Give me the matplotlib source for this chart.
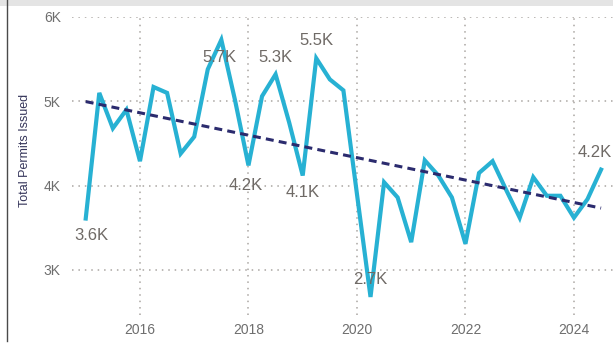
import numpy as np
import matplotlib
matplotlib.use("Agg")
import matplotlib.pyplot as plt
from matplotlib.lines import Line2D
from matplotlib.patches import Rectangle

# Quarterly building permits (thousands), 2015 Q1 - 2024 Q3
years = [2015, 2016, 2017, 2018, 2019, 2020, 2021, 2022, 2023, 2024]
quarter_values = [
    [3.61, 5.10, 4.68, 4.90],
    [4.29, 5.17, 5.10, 4.38],
    [4.58, 5.38, 5.73, 5.02],
    [4.24, 5.06, 5.32, 4.75],
    [4.12, 5.51, 5.26, 5.13],
    [3.90, 2.68, 4.04, 3.86],
    [3.33, 4.30, 4.12, 3.86],
    [3.31, 4.15, 4.29, 3.95],
    [3.62, 4.10, 3.88, 3.88],
    [3.62, 3.84, 4.19],
]
y_ticks = [3, 4, 5, 6]
y_tick_labels = ["3K", "4K", "5K", "6K"]
x_ticks = [2016, 2018, 2020, 2022, 2024]
x_tick_labels = ["2016", "2018", "2020", "2022", "2024"]
y_title = "Total Permits Issued"

# Points that carry a value label: (index, offset_x px, offset_y px)
labelled = [(0, 6, -17), (10, -2, -18), (12, -3, -20), (14, 0, 17),
            (16, 0, -17), (17, 0, 17.5), (21, 0, 17), (38, -6, 17)]

t = []
v = []
for yr, qs in zip(years, quarter_values):
    for q, val in enumerate(qs):
        t.append(yr + q * 0.25)
        v.append(val)
t = np.array(t)
v = np.array(v)

W, H = 613, 343
fig = plt.figure(figsize=(W / 100, H / 100), dpi=100)
plt.rcParams["font.family"] = ["Liberation Sans", "DejaVu Sans"]

ax = fig.add_axes([72 / W, 1 - 315 / H, (W - 72) / W, (315 - 17) / H])
ax.set_xlim(2014.747, 2024.72)
ax.set_ylim(2.466, 6.0)

grid_kw = dict(color="#aaa6a2", linestyle=(0, (1, 3.2)), linewidth=1.1, zorder=0)
for yt in y_ticks:
    ax.axhline(yt, **grid_kw)
for xt in x_ticks:
    ax.axvline(xt, **grid_kw)

line_color = "#27b1d3"
ax.plot(t, v, color=line_color, linewidth=3.0, solid_joinstyle="miter", zorder=3)

# Least-squares trend line
slope, intercept = np.polyfit(t, v, 1)
ax.plot([t[0], t[-1]], [intercept + slope * t[0], intercept + slope * t[-1]],
        color="#2b2b6e", linewidth=2.2, linestyle=(0, (2.6, 1.7)), zorder=4)

for idx, ox, oy in labelled:
    ax.annotate(f"{v[idx]:.1f}K", (t[idx], v[idx]),
                xytext=(ox * 0.72, oy * 0.72), textcoords="offset points",
                ha="center", va="center", fontsize=12, color="#6f6a66",
                zorder=5, annotation_clip=False)

ax.set_yticks(y_ticks)
ax.set_yticklabels(y_tick_labels)
ax.set_xticks(x_ticks)
ax.set_xticklabels(x_tick_labels)
ax.tick_params(axis="both", length=0, labelsize=10, labelcolor="#6e6e6e")
ax.tick_params(axis="y", pad=8)
ax.tick_params(axis="x", pad=6)
for s in ax.spines.values():
    s.set_visible(False)
ax.patch.set_alpha(0)

fig.text(25 / W, 1 - 150 / H, y_title, rotation=90, ha="center", va="center",
         fontsize=9, color="#35355a")

# Frame pieces: header strip and left edge
fig.add_artist(Rectangle((0, 1 - 6 / H), 1, 6 / H, transform=fig.transFigure,
                         facecolor="#e4e4e4", edgecolor="none", zorder=0))
fig.add_artist(Line2D([7 / W, 7 / W], [1 - 341 / H, 1], transform=fig.transFigure,
                      color="#4a4a4a", linewidth=1.0))

fig.savefig("out.png", dpi=100)
